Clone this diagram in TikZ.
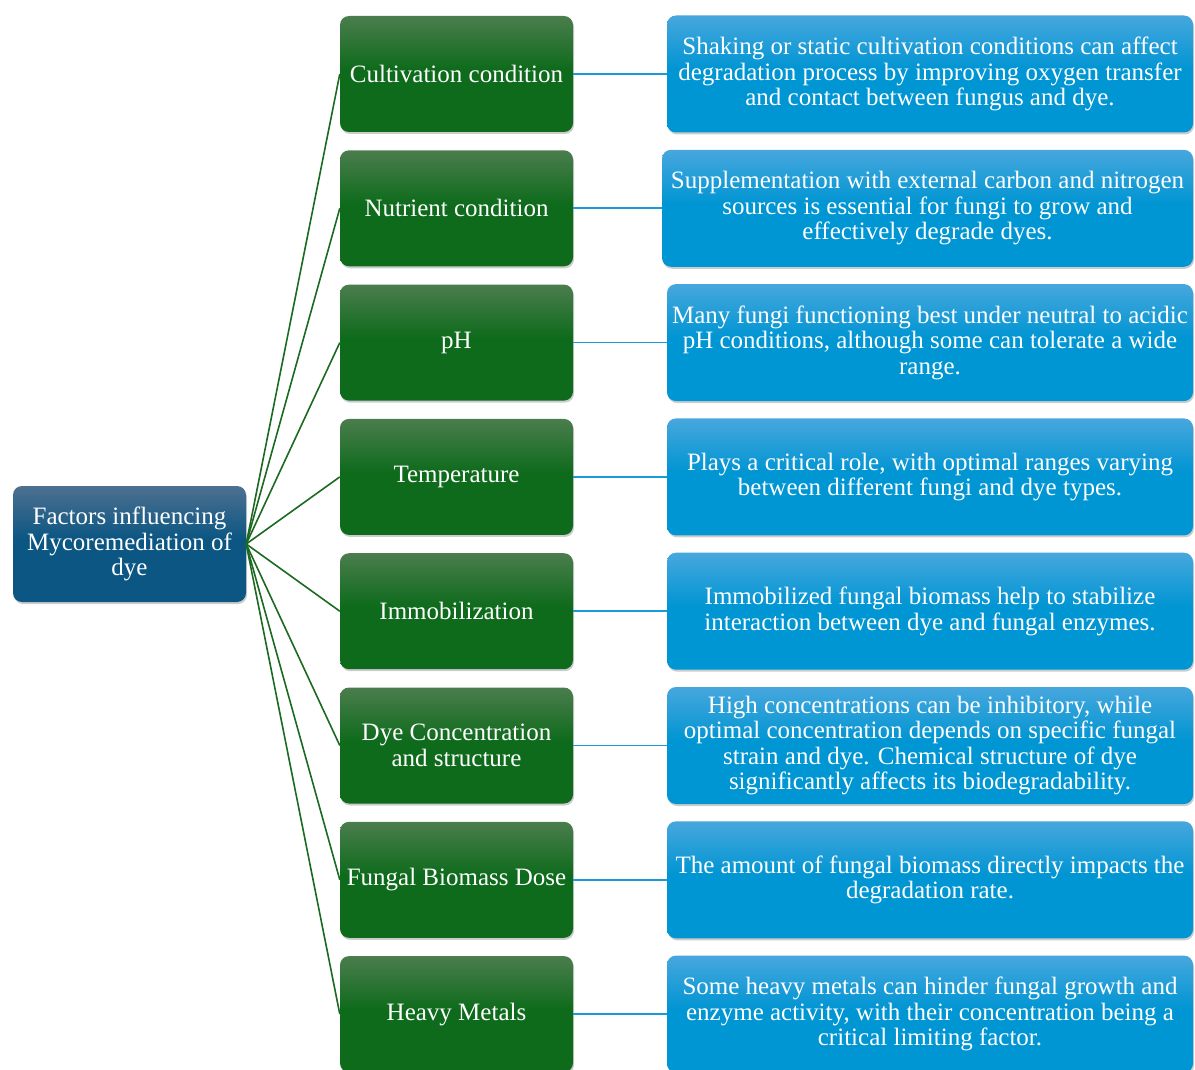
\documentclass[tikz,border=0pt]{standalone}
\usepackage{fontspec}
\setmainfont{Liberation Serif}
\usetikzlibrary{shadows}

% box colours
\definecolor{gtop}{HTML}{4B7D4D}
\definecolor{gbot}{HTML}{0E6B1C}
\definecolor{btop}{HTML}{47A7DD}
\definecolor{bbot}{HTML}{0095D3}
\definecolor{rtop}{HTML}{4D7090}
\definecolor{rbot}{HTML}{0B5683}
\definecolor{glink}{HTML}{1C6A22}
\definecolor{blink}{HTML}{1A9AD6}

% light band at the top, darker lower part
\pgfdeclareverticalshading{greenfade}{100bp}{color(0bp)=(gbot); color(25bp)=(gbot); color(52bp)=(gbot); color(75bp)=(gtop); color(100bp)=(gtop)}
\pgfdeclareverticalshading{bluefade}{100bp}{color(0bp)=(bbot); color(25bp)=(bbot); color(52bp)=(bbot); color(75bp)=(btop); color(100bp)=(btop)}
\pgfdeclareverticalshading{rootfade}{100bp}{color(0bp)=(rbot); color(25bp)=(rbot); color(52bp)=(rbot); color(75bp)=(rtop); color(100bp)=(rtop)}

\tikzset{
  box/.style={rounded corners=9pt, align=center, text=white, inner sep=0pt,
    font=\fontsize{25}{25.5}\selectfont,
    drop shadow={shadow xshift=1pt, shadow yshift=-2pt, opacity=0.4}},
  rootbox/.style={box, shading=rootfade, minimum width=233pt, minimum height=116pt},
  factor/.style={box, shading=greenfade, minimum width=233pt, minimum height=116pt},
  effect/.style={box, shading=bluefade, minimum width=526pt, minimum height=117pt},
  glinkline/.style={draw=glink, line width=1.6pt},
  blinkline/.style={draw=blink, line width=1.6pt},
}

\begin{document}
\begin{tikzpicture}[x=1pt, y=-1pt]
\useasboundingbox (0,0) rectangle (1195,1070);

\node[rootbox] (root) at (129.5,544) {Factors influencing\\Mycoremediation of\\dye};

\node[factor] (g1) at (456.5,74)     {Cultivation condition};
\node[factor] (g2) at (456.5,208.3)  {Nutrient condition};
\node[factor] (g3) at (456.5,342.6)  {pH};
\node[factor] (g4) at (456.5,476.9)  {Temperature};
\node[factor] (g5) at (456.5,611.2)  {Immobilization};
\node[factor] (g6) at (456.5,745.5)  {Dye Concentration\\and structure};
\node[factor] (g7) at (456.5,879.8)  {Fungal Biomass Dose};
\node[factor] (g8) at (456.5,1014.1) {Heavy Metals};

\node[effect] (b1) at (930,74) {Shaking or static cultivation conditions can affect\\degradation process by improving oxygen transfer\\and contact between fungus and dye.};
\node[effect, minimum width=531pt] (b2) at (927.5,208.3) {Supplementation with external carbon and nitrogen\\sources is essential for fungi to grow and\\effectively degrade dyes.};
\node[effect] (b3) at (930,342.6) {Many fungi functioning best under neutral to acidic\\pH conditions, although some can tolerate a wide\\range.};
\node[effect] (b4) at (930,476.9) {Plays a critical role, with optimal ranges varying\\between different fungi and dye types.};
\node[effect] (b5) at (930,611.2) {Immobilized fungal biomass help to stabilize\\interaction between dye and fungal enzymes.};
\node[effect] (b6) at (930,745.5) {High concentrations can be inhibitory, while\\optimal concentration depends on specific fungal\\strain and dye. Chemical structure of dye\\significantly affects its biodegradability.};
\node[effect] (b7) at (930,879.8) {The amount of fungal biomass directly impacts the\\degradation rate.};
\node[effect] (b8) at (930,1014.1) {Some heavy metals can hinder fungal growth and\\enzyme activity, with their concentration being a\\critical limiting factor.};

\foreach \i in {1,...,8} {
  \draw[glinkline] (root.east) -- (g\i.west);
  \draw[blinkline] (g\i.east) -- (b\i.west);
}
\end{tikzpicture}
\end{document}
